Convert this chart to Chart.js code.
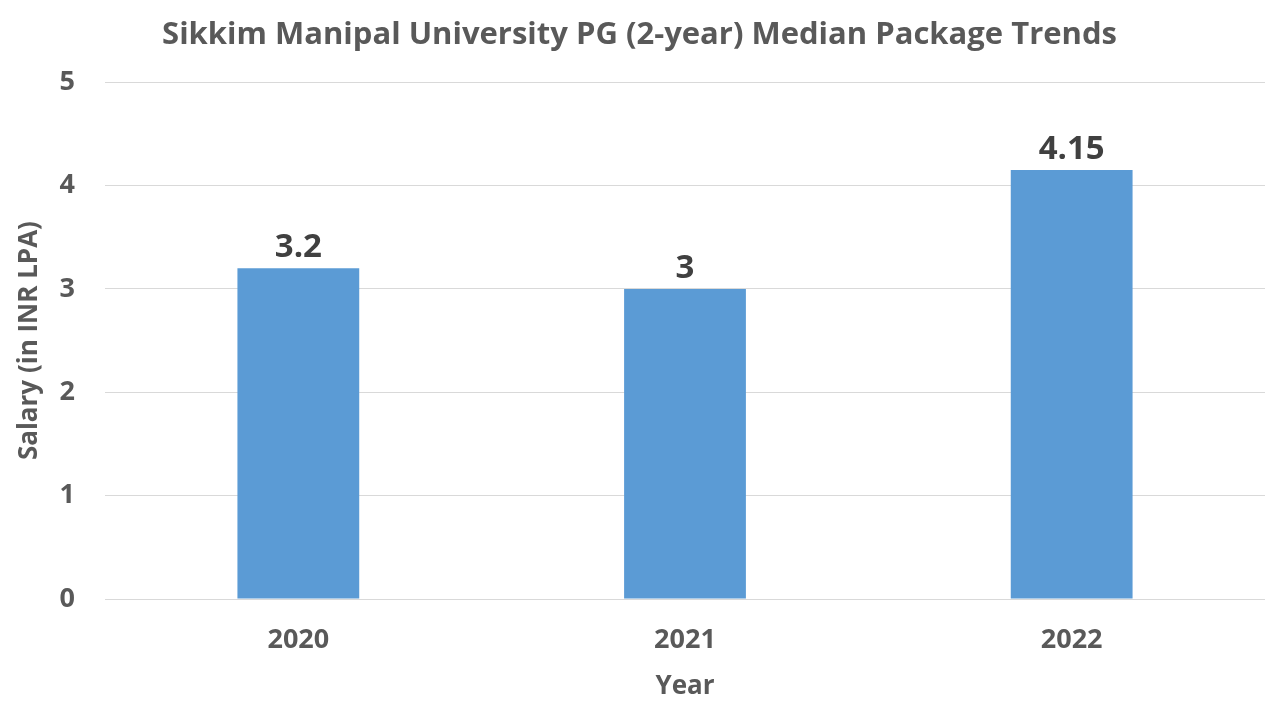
<!DOCTYPE html>
<html lang="en">
<head>
    <meta charset="UTF-8">
    <title>Sikkim Manipal University PG Median Package</title>
    <style>
        html, body { margin: 0; padding: 0; background: #fff; }
        .chart-box { width: 1280px; height: 720px; }
    </style>
    <script src="https://cdn.jsdelivr.net/npm/chart.js"></script>
</head>
<body>
    <div class="chart-box">
        <canvas id="pkgChart" width="1280" height="720"></canvas>
    </div>

    <script>
        // chart data
        const years = ['2020', '2021', '2022'];
        const medianPackage = [3.2, 3, 4.15];
        const yTicks = [0, 1, 2, 3, 4, 5];

        const FONT = "'Open Sans', 'Liberation Sans', sans-serif";

        // draw the value above each bar
        const barValuePlugin = {
            id: 'barValuePlugin',
            afterDatasetsDraw: function(chart) {
                const ctx = chart.ctx;
                const meta = chart.getDatasetMeta(0);
                ctx.save();
                ctx.fillStyle = '#404040';
                ctx.font = 'bold 33px ' + FONT;
                ctx.textAlign = 'center';
                ctx.textBaseline = 'bottom';
                meta.data.forEach(function(bar, i) {
                    ctx.fillText(String(medianPackage[i]), bar.x, bar.y - 4);
                });
                ctx.restore();
            }
        };

        new Chart(document.getElementById('pkgChart').getContext('2d'), {
            type: 'bar',
            data: {
                labels: years,
                datasets: [{
                    label: 'Median Package',
                    data: medianPackage,
                    backgroundColor: '#5B9BD5',
                    categoryPercentage: 1.0,
                    barPercentage: 0.315
                }]
            },
            options: {
                responsive: false,
                animation: false,
                layout: { padding: { top: 10, right: 15, bottom: 20, left: 14 } },
                plugins: {
                    legend: { display: false },
                    tooltip: { enabled: false },
                    title: {
                        display: true,
                        text: 'Sikkim Manipal University PG (2-year) Median Package Trends',
                        color: '#595959',
                        font: { family: FONT, size: 31, weight: 'bold' },
                        padding: { top: 7, bottom: 28 }
                    }
                },
                scales: {
                    x: {
                        grid: { display: false },
                        border: { display: false },
                        ticks: {
                            color: '#595959',
                            font: { family: FONT, size: 27, weight: 'bold', lineHeight: 1.0 },
                            padding: 20
                        },
                        title: {
                            display: true,
                            text: 'Year',
                            color: '#595959',
                            font: { family: FONT, size: 26, weight: 'bold', lineHeight: 1.0 },
                            padding: { top: 0, bottom: 0 }
                        }
                    },
                    y: {
                        min: 0,
                        max: 5,
                        afterBuildTicks: function(axis) {
                            axis.ticks = yTicks.map(function(v) { return { value: v }; });
                        },
                        afterFit: function(axis) {
                            axis.width = 91;
                        },
                        grid: { color: '#d9d9d9', lineWidth: 1, drawTicks: false },
                        border: { display: false },
                        ticks: {
                            color: '#595959',
                            font: { family: FONT, size: 27, weight: 'bold' },
                            padding: 30
                        },
                        title: {
                            display: true,
                            text: 'Salary (in INR LPA)',
                            color: '#595959',
                            font: { family: FONT, size: 26, weight: 'bold' },
                            padding: { top: 0, bottom: 0 }
                        }
                    }
                }
            },
            plugins: [barValuePlugin]
        });
    </script>
</body>
</html>
